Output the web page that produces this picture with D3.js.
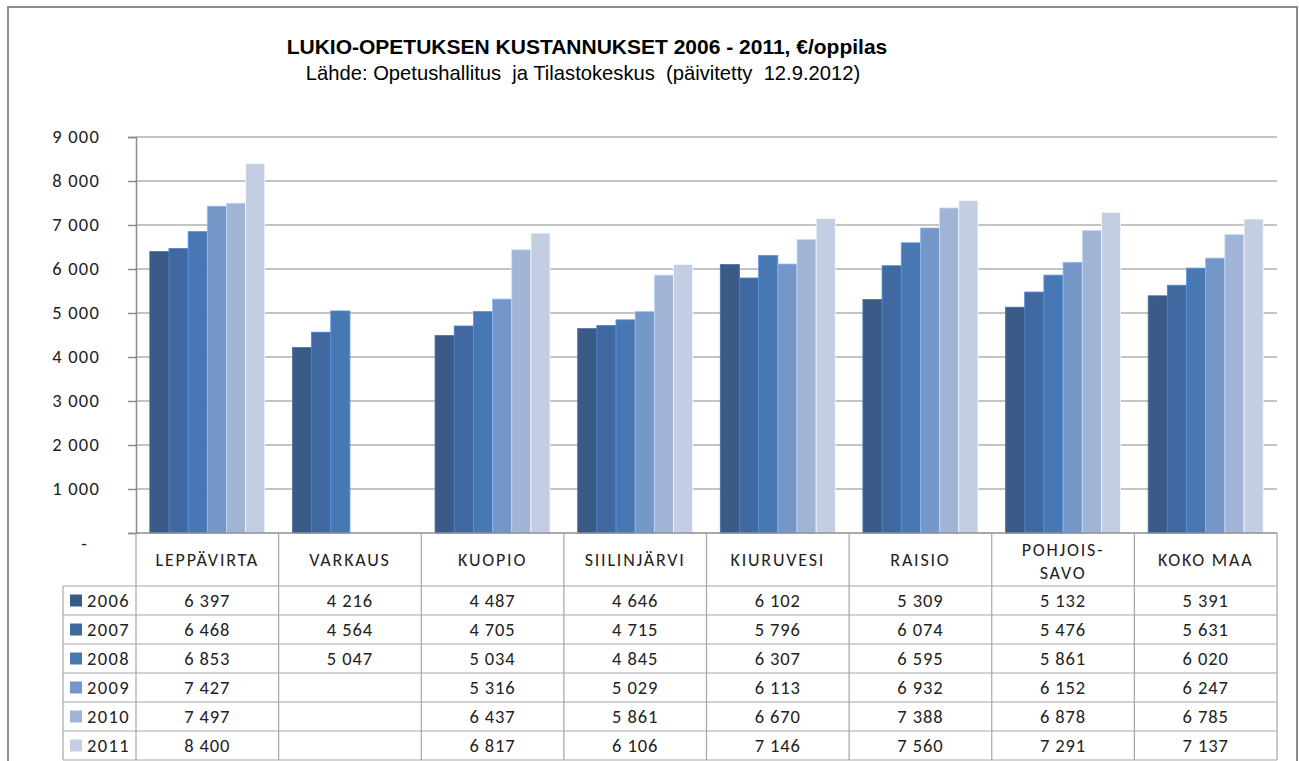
<!DOCTYPE html>
<html>
<head>
<meta charset="utf-8">
<script src="https://cdn.jsdelivr.net/npm/d3@7"></script>
<style>
  body { margin: 0; background: #fff; }
  svg { display: block; }
</style>
</head>
<body>
<svg id="chart" width="1299" height="761"></svg>
<script>
// data
const categories = ["LEPPÄVIRTA", "VARKAUS", "KUOPIO", "SIILINJÄRVI", "KIURUVESI", "RAISIO", "POHJOIS-SAVO", "KOKO MAA"];
const years = ["2006", "2007", "2008", "2009", "2010", "2011"];
const v2006 = [6397, 4216, 4487, 4646, 6102, 5309, 5132, 5391];
const v2007 = [6468, 4564, 4705, 4715, 5796, 6074, 5476, 5631];
const v2008 = [6853, 5047, 5034, 4845, 6307, 6595, 5861, 6020];
const v2009 = [7427, null, 5316, 5029, 6113, 6932, 6152, 6247];
const v2010 = [7497, null, 6437, 5861, 6670, 7388, 6878, 6785];
const v2011 = [8400, null, 6817, 6106, 7146, 7560, 7291, 7137];
const yTicks = [0, 1000, 2000, 3000, 4000, 5000, 6000, 7000, 8000, 9000];
const title = "LUKIO-OPETUKSEN KUSTANNUKSET 2006 - 2011, €/oppilas";
const subtitle = "Lähde: Opetushallitus  ja Tilastokeskus  (päivitetty  12.9.2012)";

const series = [v2006, v2007, v2008, v2009, v2010, v2011];
const colors = ["#3a5b88", "#3f69a0", "#4878b4", "#7597c8", "#a1b4d6", "#c3cee3"];

const svg = d3.select("#chart");
const font = "Carlito, Lato, 'Open Sans', sans-serif";

// outer frame
svg.append("rect")
  .attr("x", 8).attr("y", 7).attr("width", 1289).attr("height", 770)
  .attr("fill", "none").attr("stroke", "#8c8c8c").attr("stroke-width", 2);

svg.append("text")
  .attr("x", 587).attr("y", 54)
  .attr("text-anchor", "middle")
  .style("font-family", "'Liberation Sans', Arial, sans-serif")
  .style("font-weight", "bold").style("font-size", "21px")
  .text(title);
svg.append("text")
  .attr("x", 583).attr("y", 80)
  .attr("text-anchor", "middle")
  .style("font-family", "'Liberation Sans', Arial, sans-serif")
  .style("font-size", "20.2px")
  .style("white-space", "pre")
  .attr("xml:space", "preserve")
  .text(subtitle);

const plotL = 136, plotR = 1277, plotT = 137, plotB = 533;

const x = d3.scaleBand().domain(categories).range([plotL, plotR]).padding(0);
const x1 = d3.scaleBand().domain(years).range([0, x.bandwidth()]).paddingOuter(0.72);
const y = d3.scaleLinear().domain([0, 9000]).range([plotB, plotT]);

const fmt = v => d3.format(",")(v).replace(/,/g, " ");

// gridlines
svg.append("g").selectAll("line").data(yTicks.filter(d => d > 0)).join("line")
  .attr("x1", plotL).attr("x2", plotR)
  .attr("y1", d => y(d)).attr("y2", d => y(d))
  .attr("stroke", "#b0b0b0").attr("stroke-width", 1.5);

// y axis
const yAxis = svg.append("g")
  .attr("transform", `translate(${plotL},0)`)
  .call(d3.axisLeft(y).tickValues(yTicks).tickSize(8).tickPadding(28)
    .tickFormat(d => d === 0 ? "-" : fmt(d)));
yAxis.select(".domain").attr("stroke", "#8c8c8c").attr("stroke-width", 1.5);
yAxis.selectAll(".tick line").attr("stroke", "#8c8c8c").attr("stroke-width", 1.5);
yAxis.selectAll(".tick text")
  .style("font-family", font).style("font-size", "18.5px")
  .style("letter-spacing", "1.2px").attr("fill", "#222");
yAxis.selectAll(".tick").filter(d => d === 0).select("text").attr("dy", "0.9em").attr("dx", "-12");

// bars
const groups = svg.append("g").selectAll("g").data(categories).join("g")
  .attr("transform", d => `translate(${x(d)},0)`);
groups.selectAll("rect")
  .data((c, i) => years.map((yr, j) => ({ yr, j, v: series[j][i] })).filter(d => d.v != null))
  .join("rect")
  .attr("x", d => x1(d.yr))
  .attr("width", x1.bandwidth())
  .attr("y", d => y(d.v))
  .attr("height", d => y(0) - y(d.v))
  .attr("fill", d => colors[d.j])
  .attr("stroke", d => d3.color(colors[d.j]).brighter(0.6))
  .attr("stroke-width", 0.8);

// x axis line
svg.append("line").attr("x1", plotL).attr("x2", plotR).attr("y1", plotB).attr("y2", plotB)
  .attr("stroke", "#8c8c8c").attr("stroke-width", 1.5);

// data table
const headBottom = 586, rowH = 29, legLeft = 63;
const tableBottom = headBottom + rowH * years.length;
const tg = svg.append("g");
const lineCol = "#a6a6a6";

const hLines = d3.range(years.length + 1).map(i => headBottom + i * rowH);
tg.selectAll("line.h").data(hLines).join("line").attr("class", "h")
  .attr("x1", legLeft).attr("x2", plotR)
  .attr("y1", d => d).attr("y2", d => d)
  .attr("stroke", lineCol).attr("stroke-width", 1.2);

const vLines = categories.map(c => x(c)).concat([plotR]);
tg.selectAll("line.v").data(vLines).join("line").attr("class", "v")
  .attr("x1", d => d).attr("x2", d => d)
  .attr("y1", plotB).attr("y2", tableBottom)
  .attr("stroke", lineCol).attr("stroke-width", 1.2);
tg.append("line").attr("x1", legLeft).attr("x2", legLeft)
  .attr("y1", headBottom).attr("y2", tableBottom)
  .attr("stroke", lineCol).attr("stroke-width", 1.2);

// header labels
const head = tg.selectAll("text.head").data(categories).join("text").attr("class", "head")
  .attr("x", d => x(d) + x.bandwidth() / 2)
  .attr("text-anchor", "middle")
  .style("font-family", font).style("font-size", "18px")
  .style("letter-spacing", "1.8px").attr("fill", "#222");
head.each(function (d) {
  const parts = d === "POHJOIS-SAVO" ? ["POHJOIS-", "SAVO"] : [d];
  const t = d3.select(this);
  const y0 = parts.length === 1 ? 566 : 556;
  parts.forEach((p, k) => t.append("tspan")
    .attr("x", x(d) + x.bandwidth() / 2).attr("y", y0 + k * 23).text(p));
});

// legend column
years.forEach((yr, j) => {
  const cy = headBottom + j * rowH + rowH / 2;
  tg.append("rect").attr("x", 70).attr("y", cy - 6).attr("width", 12).attr("height", 12)
    .attr("fill", colors[j]);
  tg.append("text").attr("x", 87).attr("y", cy + 6.5)
    .style("font-family", font).style("font-size", "18.5px")
    .style("letter-spacing", "1.4px").attr("fill", "#222")
    .text(yr);
});

// values
years.forEach((yr, j) => {
  const cy = headBottom + j * rowH + rowH / 2;
  tg.selectAll(null).data(categories.map((c, i) => ({ c, v: series[j][i] })).filter(d => d.v != null))
    .join("text")
    .attr("x", d => x(d.c) + x.bandwidth() / 2).attr("y", cy + 6.5)
    .attr("text-anchor", "middle")
    .style("font-family", font).style("font-size", "18.5px")
    .style("letter-spacing", "0.9px").attr("fill", "#222")
    .text(d => fmt(d.v));
});
</script>
</body>
</html>
